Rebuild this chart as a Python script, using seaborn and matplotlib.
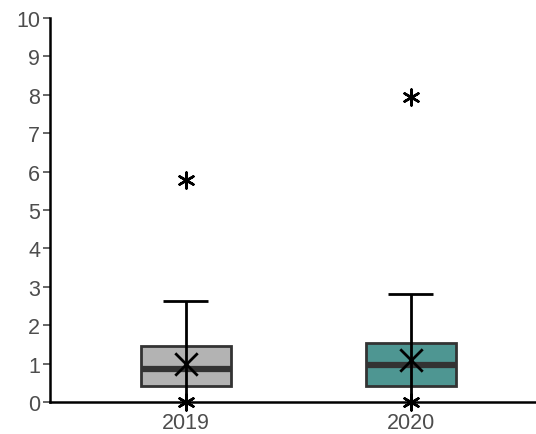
import seaborn as sns
import matplotlib.pyplot as plt
import pandas as pd

# Values
years = ['2019', '2020']
q1 = [0.42, 0.42]
median = [0.86, 0.96]
q3 = [1.46, 1.54]
whisker_low = [0.0, 0.0]
whisker_high = [2.62, 2.81]
means = [0.99, 1.09]
outliers = [5.77, 7.94]
box_colors = ['#b3b3b3', '#4e9692']

sns.set_style("white")
plt.rcParams['font.family'] = ['Liberation Sans', 'DejaVu Sans']

fig = plt.figure(figsize=(5.36, 4.35), dpi=100)
ax = fig.add_axes([0.0933, 0.0736, 0.9067, 0.8828])

positions = list(range(len(years)))
stats = [
    dict(label=y, q1=a, med=m, q3=b, whislo=lo, whishi=hi, fliers=[])
    for y, a, m, b, lo, hi in zip(years, q1, median, q3, whisker_low, whisker_high)
]
bp = ax.bxp(stats, positions=positions, widths=0.4, patch_artist=True,
            showcaps=False, showfliers=False,
            boxprops=dict(edgecolor='#333333', linewidth=2),
            medianprops=dict(color='#333333', linewidth=4.5, solid_capstyle='butt'),
            whiskerprops=dict(linewidth=0))
for patch, c in zip(bp['boxes'], box_colors):
    patch.set_facecolor(c)

# whisker line runs through the box, cap on top only
ax.vlines(positions, whisker_low, whisker_high, color='black', lw=2, zorder=4)
ax.hlines(whisker_high, [p - 0.1 for p in positions], [p + 0.1 for p in positions],
          color='black', lw=2, zorder=4)

df_mean = pd.DataFrame({'x': positions, 'y': means})
sns.scatterplot(data=df_mean, x='x', y='y', marker='x', s=260, color='black',
                linewidth=2, ax=ax, zorder=5, clip_on=False)
df_pts = pd.DataFrame({'x': positions * 2, 'y': outliers + whisker_low})
sns.scatterplot(data=df_pts, x='x', y='y', marker=(6, 2, 0), s=130, color='black',
                linewidth=1.8, ax=ax, zorder=5, clip_on=False)

ax.set_xlim(-0.604, 1.556)
ax.set_ylim(0, 10)
ax.set_yticks(range(0, 11))
ax.set_xticks(positions)
ax.set_xticklabels(years)
ax.set_xlabel('')
ax.set_ylabel('')
for s in ['top', 'right']:
    ax.spines[s].set_visible(False)
for s in ['left', 'bottom']:
    ax.spines[s].set_linewidth(1.8)
    ax.spines[s].set_color('black')
ax.tick_params(axis='both', which='both', direction='out', length=5, width=1.2,
               color='#4d4d4d', labelsize=15.5, labelcolor='#4d4d4d', pad=2,
               left=True, bottom=False)

fig.savefig('out.png', dpi=100)
